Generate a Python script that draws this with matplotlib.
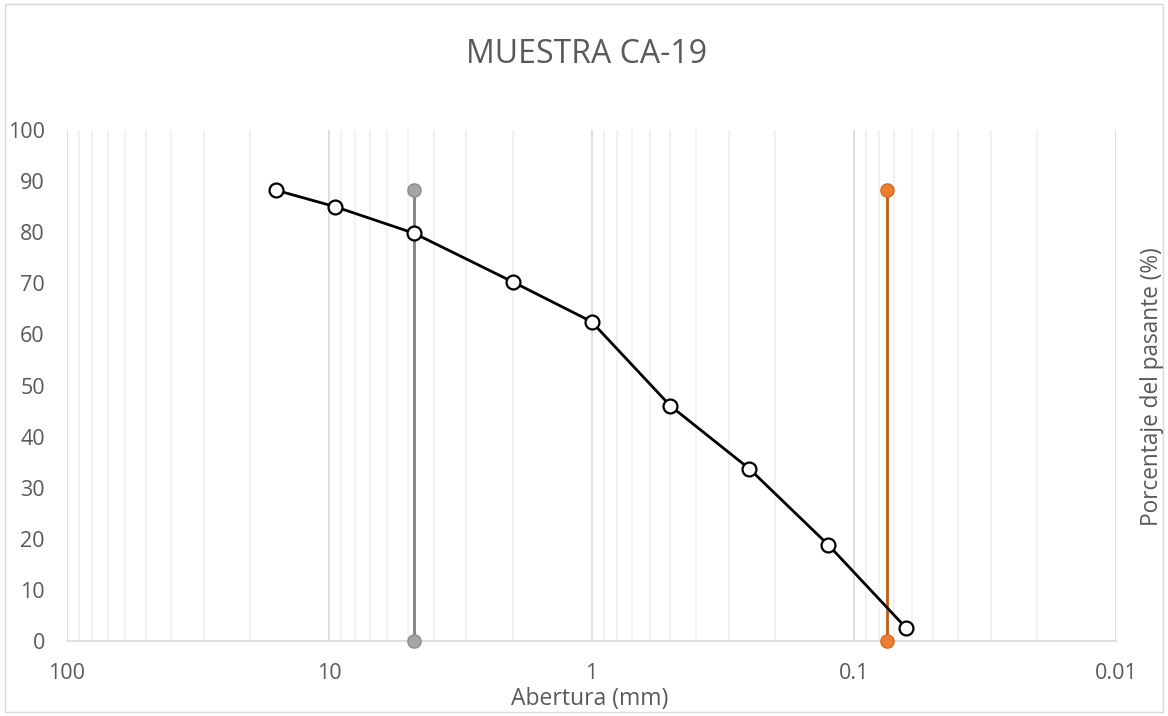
import numpy as np
import matplotlib.pyplot as plt
from matplotlib.patches import Rectangle
from matplotlib.ticker import LogLocator, FixedLocator, NullFormatter

plt.rcParams['font.family'] = ['Open Sans', 'DejaVu Sans']

# curva granulométrica
abertura = [15.9, 9.5, 4.75, 2.0, 1.0, 0.5, 0.25, 0.125, 0.063]
pasante = [88.2, 85.0, 79.8, 70.3, 62.5, 46.0, 33.7, 18.8, 2.5]

# líneas verticales de referencia
linea_gris_x = [4.75, 4.75]
linea_gris_y = [0, 88.2]
linea_naranja_x = [0.075, 0.075]
linea_naranja_y = [0, 88.2]

texto = '#595959'

fig = plt.figure(figsize=(11.68, 7.16), dpi=100)
fig.patches.append(Rectangle((0.004, 0.006), 0.992, 0.988, transform=fig.transFigure,
                             fill=False, edgecolor='#d9d9d9', linewidth=1))
ax = fig.add_axes([0.0574, 0.1047, 0.8981, 0.7137])

ax.set_xscale('log')
ax.set_xlim(100, 0.01)
ax.set_ylim(0, 100)

ax.xaxis.set_major_locator(FixedLocator([100, 10, 1, 0.1, 0.01]))
ax.xaxis.set_major_formatter(plt.FuncFormatter(lambda v, p: '%g' % v))
ax.xaxis.set_minor_locator(LogLocator(base=10, subs=np.arange(2, 10)))
ax.xaxis.set_minor_formatter(NullFormatter())
ax.set_yticks(np.arange(0, 101, 10))

ax.grid(which='major', axis='x', color='#d9d9d9', linewidth=1.2)
ax.grid(which='minor', axis='x', color='#f0f0f0', linewidth=1.2)
ax.set_axisbelow(True)

for s in ['top', 'left', 'right']:
    ax.spines[s].set_visible(False)
ax.spines['bottom'].set_color('#d9d9d9')
ax.spines['bottom'].set_linewidth(1.2)

ax.tick_params(which='both', length=0)
ax.tick_params(axis='x', pad=16, labelsize=15.5, labelcolor=texto)
ax.tick_params(axis='y', pad=16, labelsize=15.5, labelcolor=texto)

ax.plot(linea_gris_x, linea_gris_y, color='#7f7f7f', linewidth=2,
        marker='o', markersize=9.5, markerfacecolor='#a5a5a5', markeredgecolor='#8c8c8c',
        zorder=3, clip_on=False)
ax.plot(linea_naranja_x, linea_naranja_y, color='#c55a11', linewidth=2,
        marker='o', markersize=9.5, markerfacecolor='#ed7d31', markeredgecolor='#d86b20',
        zorder=3, clip_on=False)
ax.plot(abertura, pasante, color='black', linewidth=2,
        marker='o', markersize=10, markerfacecolor='white', markeredgecolor='black',
        markeredgewidth=1.6, zorder=4, clip_on=False)

fig.text(0.502, 0.9236, 'MUESTRA CA-19', ha='center', va='center', fontsize=23, color=texto)
fig.text(0.505, 0.024, 'Abertura (mm)', ha='center', va='center', fontsize=16.5, color=texto)
fig.text(0.986, 0.46, 'Porcentaje del pasante (%)', ha='center', va='center',
         rotation=90, fontsize=16.3, color=texto)

fig.savefig('out.png', dpi=100)
